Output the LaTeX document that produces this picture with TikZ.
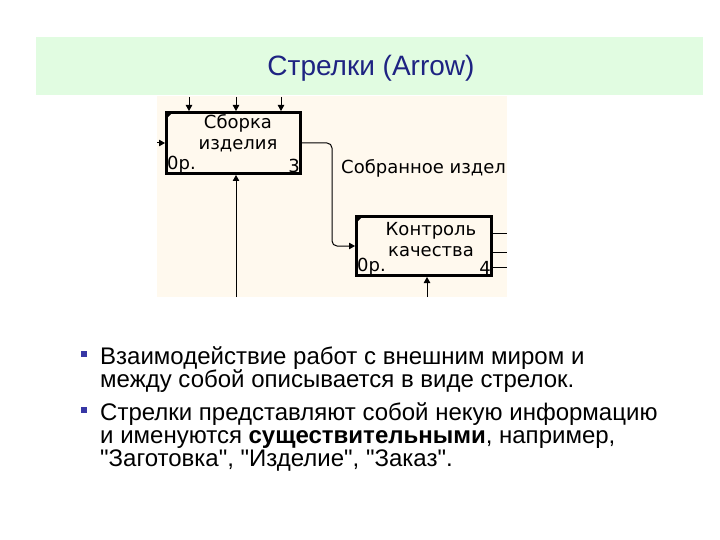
\documentclass[tikz,border=0pt]{standalone}
\usepackage{fontspec}
\setmainfont{Liberation Sans}[Ligatures=TeXOff]
\newfontfamily\shotfont{DejaVu Sans}
\usetikzlibrary{arrows.meta,positioning,calc}
\definecolor{bandgreen}{RGB}{225,252,225}
\definecolor{shotcream}{RGB}{255,249,238}
\definecolor{titleblue}{RGB}{30,35,130}
\definecolor{bulletblue}{RGB}{55,55,165}

\begin{document}
\begin{tikzpicture}[x=1pt, y=-1pt,
  box/.style={draw, line width=3pt, minimum width=134pt, minimum height=61pt,
              inner sep=0pt},
  boxtxt/.style={font=\shotfont\fontsize{18}{21}\selectfont, align=center,
                  inner sep=0pt},
  num/.style={font=\shotfont\fontsize{18}{19}\selectfont, inner sep=2pt},
  arr/.style={-{Triangle[length=6pt, width=6.5pt]}, line width=1pt},
  ttl/.style={font=\fontsize{28}{32}\selectfont, text=titleblue, inner sep=0pt},
  item/.style={font=\fontsize{24}{23}\selectfont, align=left, inner sep=0pt,
               anchor=north west},
  bul/.style={fill=bulletblue, minimum size=5.5pt, inner sep=0pt}]

\useasboundingbox (0,0) rectangle (720,540);

% ---------------- title band ---------------------------------------------
\fill[bandgreen] (36,37) rectangle (703,95);
\node[ttl] (title) at (371,68) {Стрелки (Arrow)};

% ---------------- the diagram fragment -----------------------------------
\fill[shotcream] (157,96) rectangle (507,297);

\node[box] (b1) at (233.5,143) {};
\node[box, minimum width=135pt, minimum height=59pt] (b2) at (424,246) {};

\node[boxtxt] (b1name) at (238,133) {Сборка\\изделия};
\node[num, anchor=south west] (b1op) at (b1.south west) {0р.};
\node[num, anchor=south east] (b1no) at (b1.south east) {3};
\fill ($(b1.north west)+(1.5,1.5)$) -- ++(6,0) -- ++(-6,6) -- cycle;

\node[boxtxt] (b2name) at (431,240) {Контроль\\качества};
\node[num, anchor=south west] (b2op) at (b2.south west) {0р.};
\node[num, anchor=south east] (b2no) at (b2.south east) {4};
\fill ($(b2.north west)+(1.5,1.5)$) -- ++(6,0) -- ++(-6,6) -- cycle;

% controls, input and mechanism of the first box
\foreach \x [count=\i] in {189,236,281} {
  \coordinate (ctl\i) at (\x,97);
  \draw[arr] (ctl\i) -- (ctl\i |- b1.north);
}
\coordinate (inp) at (157,143);
\draw[arr] (inp) -- (b1.west);
\coordinate (mech1) at (236,297);
\draw[arr] (mech1) -- (mech1 |- b1.south);

% output of the first box feeds the second
\coordinate (turn) at (332,246);
\draw[arr, rounded corners=5pt] (b1.east) -| (turn) -- (b2.west);
\node[boxtxt, anchor=west] (lbl) at (341,168) {Собранное издел};

% outputs and mechanism of the second box
\foreach \y [count=\i] in {233,252,267} {
  \coordinate (out\i) at (507,\y);
  \draw[line width=1pt] (b2.east |- out\i) -- (out\i);
}
\coordinate (mech2) at (427,297);
\draw[arr] (mech2) -- (mech2 |- b2.south);

% ---------------- bullet text --------------------------------------------
\node[item] (it1) at (100,346)
      {Взаимодействие работ с внешним миром и\\
       между собой описывается в виде стрелок.};
\node[item] (it2) at (100,402)
      {Стрелки представляют собой некую информацию\\
       и именуются \textbf{существительными}, например,\\
       "Заготовка", "Изделие", "Заказ".};
\node[bul] (bul1) at (84,354) {};
\node[bul] (bul2) at (84,410) {};
\end{tikzpicture}
\end{document}
